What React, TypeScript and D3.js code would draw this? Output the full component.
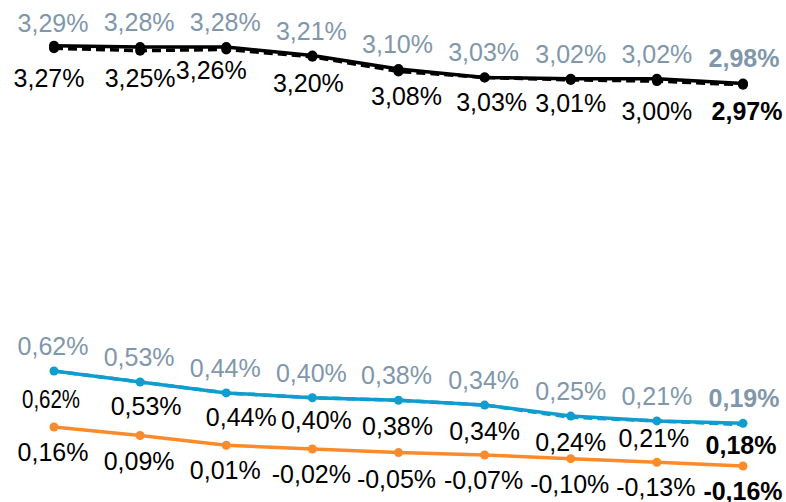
import React from "react";
import * as d3 from "d3";

const categories = ["1", "2", "3", "4", "5", "6", "7", "8", "9"];
const seriesA = [3.29, 3.28, 3.28, 3.21, 3.1, 3.03, 3.02, 3.02, 2.98]; // solid black, grey labels
const seriesB = [3.27, 3.25, 3.26, 3.2, 3.08, 3.03, 3.01, 3.0, 2.97]; // dashed black, black labels
const seriesC = [0.62, 0.53, 0.44, 0.4, 0.38, 0.34, 0.25, 0.21, 0.19]; // solid blue, grey labels
const seriesD = [0.62, 0.53, 0.44, 0.4, 0.38, 0.34, 0.24, 0.21, 0.18]; // dashed blue, black labels
const seriesE = [0.16, 0.09, 0.01, -0.02, -0.05, -0.07, -0.1, -0.13, -0.16]; // orange, black labels

// label nudges [dx, dy] relative to default placement
const nudgeA = [[-1, 2], [-1, 0], [-1, 0], [-1, 0], [-1, 0], [-1, 0], [0, 0], [0, 0], [1, -1]];
const nudgeB = [[-5, 5], [0, 2], [-15, -4], [-4, 1], [8, 0], [7, 0], [0, -2], [0, 5], [4, 1]];
const nudgeC = [[-1, 0], [-1, 0], [-1, 0], [-1, 0], [-2, 0], [-1, 0], [0, 0], [0, 0], [1, 0]];
const nudgeD = [[-3, 3], [6, -1], [15, -1], [4, -3], [-1, 1], [0, 1], [0, 0], [-3, -8], [-2, -5]];
const nudgeE = [[-1, 0], [-1, 0], [-1, 0], [-1, 0], [-2, 1], [-1, 0], [-1, 0], [-1, 0], [0, 0]];

const W = 786;
const H = 502;
const GREY = "#8097ab";
const BLUE = "#0f9dd0";
const ORANGE = "#fa8b2c";
const FONT = "'Liberation Sans', Arial, sans-serif";
const FS = 25;

const fmt = (v: number) => v.toFixed(2).replace(".", ",") + "%";

export default function App() {
  const x = d3.scalePoint<string>().domain(categories).range([54, 743]);
  const y = d3.scaleLinear().domain([-0.16, 3.29]).range([466, 45.8]);
  const line = d3
    .line<number>()
    .x((_, i) => x(categories[i]) as number)
    .y((d) => y(d));

  const labels = (
    vals: number[],
    nudge: number[][],
    color: string,
    above: boolean,
    key: string
  ) =>
    vals.map((v, i) => {
      const last = i === vals.length - 1;
      const special = key === "D" && i === 0;
      return (
        <text
          key={key + i}
          x={(x(categories[i]) as number) + nudge[i][0]}
          y={y(v) + (above ? -16 : 34) + nudge[i][1]}
          textAnchor="middle"
          fill={color}
          fontFamily={FONT}
          fontSize={FS}
          fontWeight={last ? "bold" : "normal"}
          {...(special ? { textLength: 58, lengthAdjust: "spacingAndGlyphs" } : {})}
        >
          {fmt(v)}
        </text>
      );
    });

  const dots = (vals: number[], color: string, r: number, key: string) =>
    vals.map((v, i) => (
      <circle key={key + i} cx={x(categories[i]) as number} cy={y(v)} r={r} fill={color} />
    ));

  return (
    <svg
      width={W}
      height={H}
      style={{ position: "absolute", left: 0, top: 0, background: "#fff" }}
    >
      <rect width={W} height={H} fill="#fff" />
      {/* black lines */}
      <path d={line(seriesB) || ""} fill="none" stroke="#000" strokeWidth={3.5} strokeDasharray="9,5" />
      <path d={line(seriesA) || ""} fill="none" stroke="#000" strokeWidth={3.5} />
      {dots(seriesB, "#000", 5, "db")}
      {dots(seriesA, "#000", 5, "da")}
      {/* blue lines */}
      <path d={line(seriesD) || ""} fill="none" stroke={BLUE} strokeWidth={3.5} strokeDasharray="9,5" />
      <path d={line(seriesC) || ""} fill="none" stroke={BLUE} strokeWidth={3.5} />
      {dots(seriesC, BLUE, 4.5, "dc")}
      {/* orange */}
      <path d={line(seriesE) || ""} fill="none" stroke={ORANGE} strokeWidth={3.5} />
      {dots(seriesE, ORANGE, 4.5, "de")}
      {labels(seriesA, nudgeA, GREY, true, "A")}
      {labels(seriesB, nudgeB, "#000", false, "B")}
      {labels(seriesC, nudgeC, GREY, true, "C")}
      {labels(seriesD, nudgeD, "#000", false, "D")}
      {labels(seriesE, nudgeE, "#000", false, "E")}
    </svg>
  );
}
